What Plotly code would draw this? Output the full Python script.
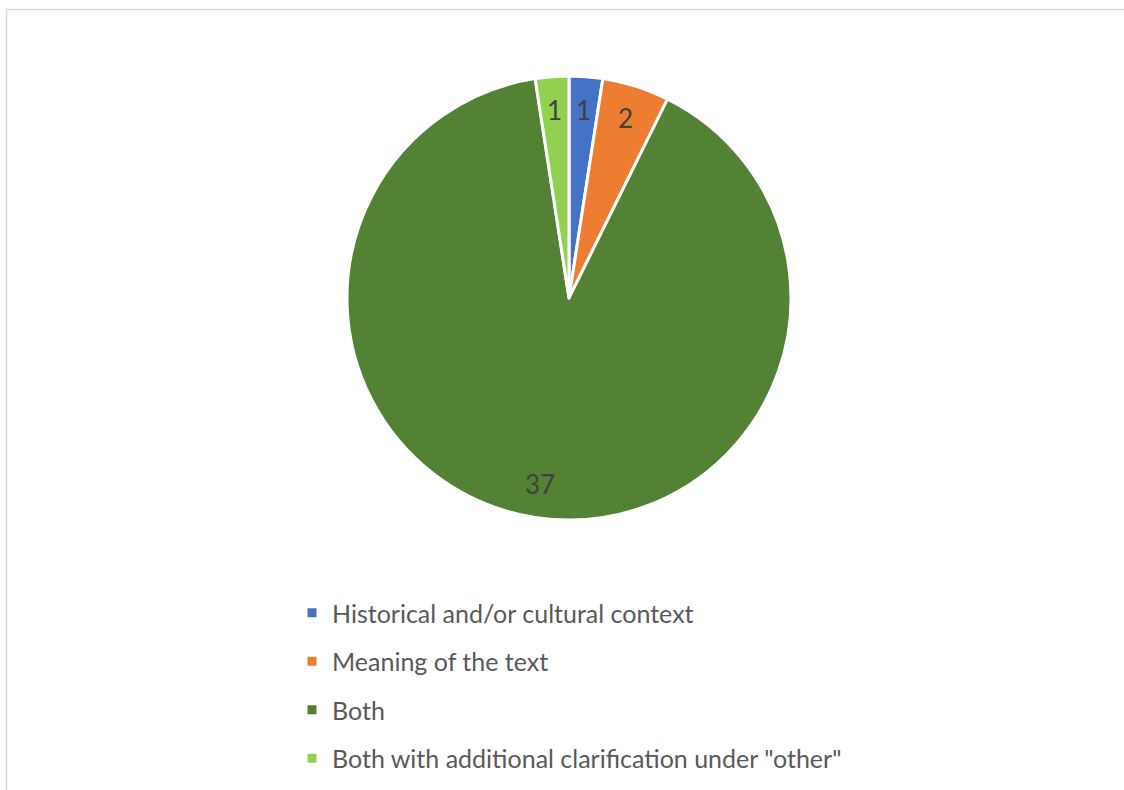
import math
import plotly.graph_objects as go

# Survey responses
categories = [
    "Historical and/or cultural context",
    "Meaning of the text",
    "Both",
    "Both with additional clarification under \"other\"",
]
counts = [1, 2, 37, 1]
colors = ["#4472C4", "#ED7D31", "#548235", "#92D050"]

W, H = 1124, 790
FONT = "Lato"

# Pie placement in pixels (converted to paper fractions below)
cx_px, cy_px, r_px = 569, 298, 222
dom_x = [(cx_px - r_px) / W, (cx_px + r_px) / W]
dom_y = [1 - (cy_px + r_px) / H, 1 - (cy_px - r_px) / H]

fig = go.Figure()
fig.add_trace(go.Pie(
    labels=categories,
    values=counts,
    sort=False,
    direction="clockwise",
    rotation=0,
    marker=dict(colors=colors, line=dict(color="white", width=3)),
    textinfo="none",
    hoverinfo="label+value",
    showlegend=False,
    domain=dict(x=dom_x, y=dom_y),
))

# Value labels placed at the middle angle of each slice
total = sum(counts)
cum = 0
for v in counts:
    mid = (cum + v / 2) / total * 2 * math.pi
    cum += v
    rr = 0.85 * r_px
    px = cx_px + rr * math.sin(mid)
    py = cy_px - rr * math.cos(mid)
    fig.add_annotation(
        x=px / W, y=1 - py / H, xref="paper", yref="paper",
        xanchor="center", yanchor="middle",
        text=str(v), showarrow=False,
        font=dict(family=FONT, size=26, color="#404040"),
    )

# Legend entries (one group each so spacing can be controlled)
for name, col in zip(categories, colors):
    fig.add_trace(go.Scatter(
        x=[None], y=[None], mode="markers", name=name,
        legendgroup=name,
        marker=dict(symbol="square", size=9, color=col),
    ))

fig.update_layout(
    width=W, height=H,
    margin=dict(l=0, r=0, t=0, b=0, autoexpand=False),
    paper_bgcolor="white",
    plot_bgcolor="white",
    xaxis=dict(visible=False),
    yaxis=dict(visible=False),
    legend=dict(
        x=292 / W, y=1 - 590 / H, xanchor="left", yanchor="top",
        orientation="v",
        font=dict(family=FONT, size=25, color="#595959"),
        tracegroupgap=13,
        bgcolor="rgba(0,0,0,0)",
    ),
    shapes=[dict(
        type="rect", xref="paper", yref="paper",
        x0=6.5 / W, x1=1.05, y0=-0.05, y1=1 - 9.5 / H,
        line=dict(color="#D9D9D9", width=1.5),
        fillcolor="rgba(0,0,0,0)", layer="below",
    )],
)

fig.write_html("out.html")
